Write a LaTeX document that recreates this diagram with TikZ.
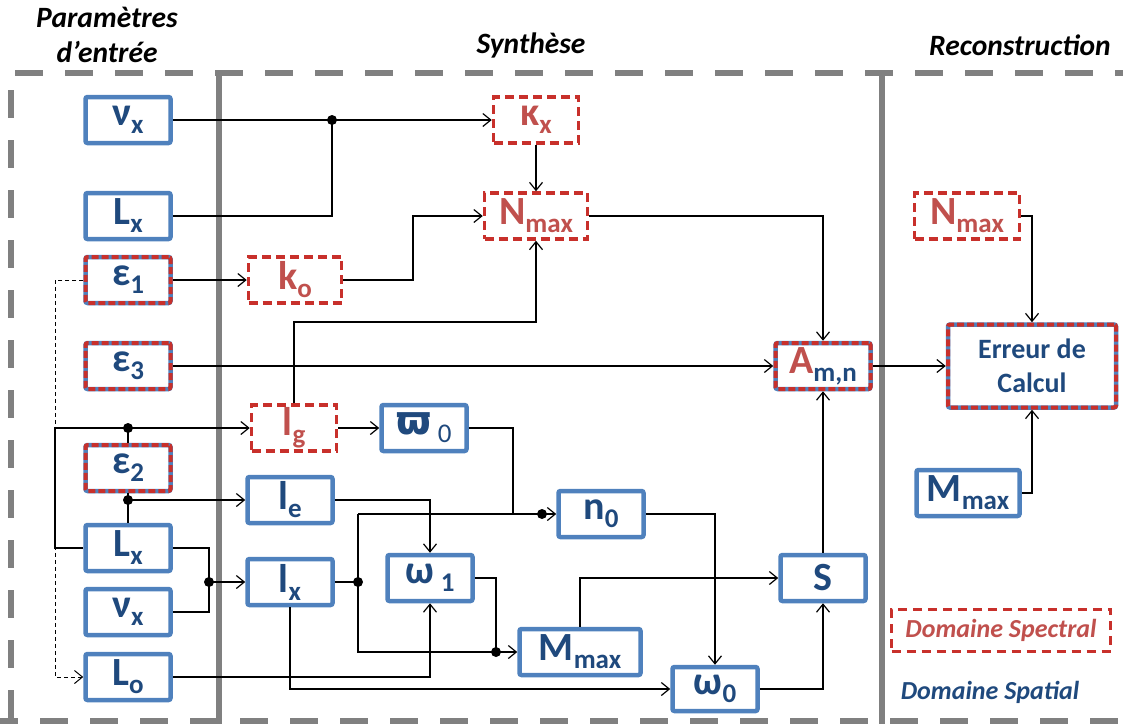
\documentclass[tikz,border=0pt]{standalone}
\usepackage{fontspec}
\setmainfont{Carlito}
\newfontfamily\dejavu{DejaVu Sans}
\usetikzlibrary{arrows.meta,positioning}
\definecolor{spatblue}{HTML}{4F81BD}
\definecolor{spatnavy}{HTML}{1F497D}
\definecolor{specred}{HTML}{C8302B}
\definecolor{spectext}{HTML}{C0504D}
\definecolor{framegray}{HTML}{808080}
\newcommand{\lab}[2]{#1\raisebox{-8pt}{\fontsize{27}{27}\selectfont #2}}

\begin{document}
\begin{tikzpicture}[
  x=1pt,y=-1pt,
  every node/.style={font=\bfseries\fontsize{40}{40}\selectfont},
  spat/.style={draw=spatblue,line width=4.5pt,rounded corners=2pt,text=spatnavy,minimum width=85pt,minimum height=46pt,inner sep=0pt},
  spec/.style={draw=specred,line width=3.5pt,dash pattern=on 9pt off 5pt,text=spectext,minimum width=85pt,minimum height=46pt,inner sep=0pt},
  mix/.style={spat,postaction={draw=specred,line width=4pt,dash pattern=on 7pt off 3pt}},
  head/.style={font=\bfseries\itshape\fontsize{29.5}{35}\selectfont,align=center},
  frame/.style={draw=framegray,line width=6pt,dash pattern=on 28pt off 22pt},
  sep/.style={draw=framegray,line width=6pt},
  arr/.style={-{Straight Barb[length=8pt,width=13pt]},line width=1.2pt},
  link/.style={line width=1.2pt}
]
\useasboundingbox (0,0) rectangle (1123,724);

% frame and columns
\draw[frame] (15,73) -- (1123,73);
\draw[frame] (11,90) -- (11,724);
\draw[frame] (-10,721) -- (1123,721);
\draw[sep] (219,73) -- (219,724);
\draw[sep] (882,73) -- (882,724);

\node[head] (hpar) at (107,35) {Paramètres\\d’entrée};
\node[head] (hsyn) at (531,45) {Synthèse};
\node[head] (hrec) at (1020,45) {Reconstruction};

% input parameters
\node[spat] (nuA) at (128,120) {\lab{ν}{x}};
\node[spat] (LxA) at (128,216) {\lab{L}{x}};
\node[mix] (epsA) at (128,280) {\lab{ε}{1}};
\node[mix] (epsC) at (128,366) {\lab{ε}{3}};
\node[mix] (epsB) at (128,468) {\lab{ε}{2}};
\node[spat] (LxB) at (128,548) {\lab{L}{x}};
\node[spat] (nuB) at (128,612) {\lab{ν}{x}};
\node[spat] (Lo) at (128,677) {\lab{L}{o}};

% synthesis
\node[spec] (kap) at (536,120) {\lab{κ}{x}};
\node[spec,minimum width=103pt] (nmaxS) at (536,216) {\lab{N}{max}};
\node[spec,minimum width=93pt] (ko) at (295,280) {\lab{k}{o}};
\node[spec] (lg) at (294,428) {\lab{l}{g}};
\node[spat] (varpi) at (424,428) {\lab{{\dejavu ϖ}\,}{\mdseries 0}};
\node[spat] (lE) at (290,500) {\lab{l}{e}};
\node[spat] (lX) at (290,582) {\lab{l}{x}};
\node[spat] (nzero) at (601,514) {\lab{n}{0}};
\node[spat] (omone) at (430,578) {\lab{ω\,}{1}};
\node[spat,minimum width=121pt] (mmaxS) at (580,652) {\lab{M}{max}};
\node[spat,minimum height=44pt] (omzero) at (715,689) {\lab{ω}{0}};
\node[spat] (Sn) at (823,578) {S};
\node[mix,minimum width=95pt] (Amn) at (823,366) {\lab{\textcolor{spectext}{A}}{m,n}};

% reconstruction
\node[spec,minimum width=105pt] (nmaxR) at (967,216) {\lab{N}{max}};
\node[mix,minimum width=168pt,minimum height=83pt,align=center,font=\bfseries\fontsize{28}{34}\selectfont] (err) at (1032,366) {Erreur de\\Calcul};
\node[spat,minimum width=103pt] (mmaxR) at (968,493) {\lab{M}{max}};
\node[spec,line width=3pt,dash pattern=on 9pt off 6pt,minimum width=219pt,minimum height=42pt,font=\bfseries\itshape\fontsize{26}{26}\selectfont] (leg) at (1001,630) {Domaine Spectral};
\node[text=spatnavy,font=\bfseries\itshape\fontsize{26}{26}\selectfont] (spatlbl) at (990,692) {Domaine Spatial};

% junctions and bends
\coordinate (j1) at (332,120);
\coordinate (b1) at (413,216);
\coordinate (b2) at (294,322);
\coordinate (c1) at (55,280);
\coordinate (c2) at (55,428);
\coordinate (d2) at (128,428);
\coordinate (d3) at (128,500);
\coordinate (d4) at (209,582);
\coordinate (d5) at (358,582);
\coordinate (c5) at (358,514);
\coordinate (c6) at (513,514);
\coordinate (d6) at (542,514);
\coordinate (d7) at (496,652);

% connectors
\draw[arr] (nuA) -- (kap);
\draw[link] (LxA) -| (j1);
\draw[arr] (kap) -- (nmaxS);
\draw[arr] (epsA) -- (ko);
\draw[arr] (ko) -| (b1) -- (nmaxS);
\draw[arr] (lg) -- (b2) -| (nmaxS);
\draw[arr] (epsC) -- (Amn);
\draw[arr] (nmaxS) -| (Amn);
\draw[arr] (Amn) -- (err);
\draw[arr,line width=1pt,dash pattern=on 4pt off 3pt] (epsA) -- (c1) |- (Lo);
\draw[arr] (LxB) -| (c2) -- (lg);
\draw[link] (epsB) -- (d2);
\draw[link] (epsB) -- (d3) -- (LxB);
\draw[arr] (d3) -- (lE);
\draw[link] (LxB) -| (d4) |- (nuB);
\draw[arr] (d4) -- (lX);
\draw[arr] (Lo) -| (omone);
\draw[arr] (lX) |- (omzero);
\draw[arr] (lE) -| (omone);
\draw[link] (lX) -- (d5);
\draw[link] (c5) -- (d5) |- (d7);
\draw[link] (c5) -- (d6);
\draw[link] (varpi) -| (c6);
\draw[link] (omone) -| (d7);
\draw[arr] (d6) -- (nzero);
\draw[arr] (d7) -- (mmaxS);
\draw[arr] (lg) -- (varpi);
\draw[arr] (nzero) -| (omzero);
\draw[arr] (mmaxS) |- (Sn);
\draw[arr] (omzero) -| (Sn);
\draw[arr] (Sn) -- (Amn);
\draw[arr] (nmaxR) -| (err);
\draw[arr] (mmaxR) -| (err);
\foreach \j in {j1,d2,d3,d4,d5,d6,d7}
  \fill (\j) circle[radius=5pt];
\end{tikzpicture}
\end{document}
